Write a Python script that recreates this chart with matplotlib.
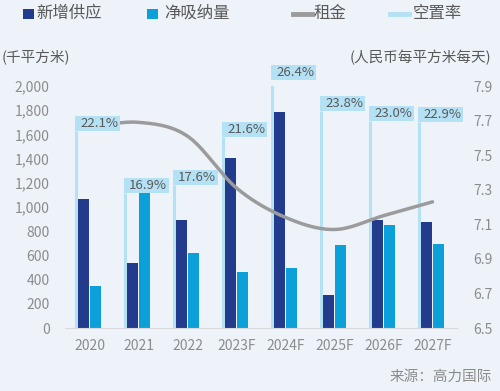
import numpy as np
import matplotlib.pyplot as plt
from matplotlib.patches import Rectangle
from matplotlib.transforms import IdentityTransform

plt.rcParams['font.family'] = ['Noto Sans CJK SC', 'DejaVu Sans']

years = ['2020', '2021', '2022', '2023F', '2024F', '2025F', '2026F', '2027F']
supply = [1070, 540, 890, 1405, 1785, 275, 895, 880]
absorption = [345, 1115, 620, 465, 500, 690, 848, 695]
rent = [7.66, 7.69, 7.61, 7.31, 7.14, 7.07, 7.15, 7.23]
vacancy = [22.1, 16.9, 17.6, 21.6, 26.4, 23.8, 23.0, 22.9]
vac_labels = ['22.1%', '16.9%', '17.6%', '21.6%', '26.4%', '23.8%', '23.0%', '22.9%']
legend_labels = ['新增供应', '净吸纳量', '租金', '空置率']

bg = '#EEF3FA'
c_dark = '#223B8C'
c_light = '#0BA0DA'
c_rent = '#9B9B9B'
c_vac = '#B5E1F4'
c_tick = '#8C8C8C'
c_text = '#595959'

H = 391  # figure height in px


def smooth(xs, ys, n=30):
    # catmull-rom style smoothing, like excel's smoothed line
    xs = np.asarray(xs, float)
    ys = np.asarray(ys, float)
    px = np.concatenate([[2*xs[0]-xs[1]], xs, [2*xs[-1]-xs[-2]]])
    py = np.concatenate([[2*ys[0]-ys[1]], ys, [2*ys[-1]-ys[-2]]])
    ox, oy = [], []
    t = np.linspace(0, 1, n)
    for i in range(1, len(px)-2):
        for p, o in ((px, ox), (py, oy)):
            p0, p1, p2, p3 = p[i-1], p[i], p[i+1], p[i+2]
            o.extend(0.5*((2*p1) + (-p0+p2)*t + (2*p0-5*p1+4*p2-p3)*t**2
                          + (-p0+3*p1-3*p2+p3)*t**3))
    return np.array(ox), np.array(oy)


fig = plt.figure(figsize=(5, 3.91), dpi=100, facecolor=bg)
ax = fig.add_axes([0.13, 0.161, 0.784, 0.619])
ax.set_facecolor(bg)
x = np.arange(len(years))
w = 0.22

# vacancy on a hidden axis
axv = ax.twinx()
axv.set_ylim(5.6, 25.9)
axv.axis('off')
xv = x - 0.27
axv.vlines(xv, 5.6, vacancy, color=c_vac, lw=2.2, zorder=1)

ax.bar(x - 0.125, supply, w, color=c_dark, zorder=2)
ax.bar(x + 0.125, absorption, w, color=c_light, zorder=2)
ax.set_xlim(-0.5, 7.5)
ax.set_ylim(0, 2000)
ax.set_yticks(range(0, 2001, 200))
ax.set_yticklabels([f'{v:,}' for v in range(0, 2001, 200)])
ax.set_xticks(x)
ax.set_xticklabels(years)
ax.tick_params(length=0, labelsize=10, colors=c_tick)
ax.tick_params(axis='y', pad=11)
ax.tick_params(axis='x', pad=8)
for s in ['top', 'right', 'left']:
    ax.spines[s].set_visible(False)
ax.spines['bottom'].set_color('#D9D9D9')
ax.set_zorder(axv.get_zorder() + 1)
ax.patch.set_visible(False)

axr = ax.twinx()
axr.set_ylim(6.5, 7.9)
axr.set_yticks(np.arange(6.5, 7.91, 0.2))
axr.set_yticklabels([f'{v:.1f}' for v in np.arange(6.5, 7.91, 0.2)])
axr.tick_params(length=0, labelsize=10, colors=c_tick, pad=12)
for s in axr.spines.values():
    s.set_visible(False)
sx, sy = smooth(x, rent)
axr.plot(sx, sy, color=c_rent, lw=2.5, solid_capstyle='round', zorder=3)

# vacancy label boxes, drawn on top in pixel units
for xi, v, lab in zip(xv, vacancy, vac_labels):
    px, py = axv.transData.transform((xi, v))
    fig.add_artist(Rectangle((px - 1.5, py), 45, 15, transform=IdentityTransform(),
                             fc=c_vac, ec='none', zorder=10))
    fig.text((px + 4) / 500, (py + 7.5) / H, lab, fontsize=9.5, color=c_text,
             ha='left', va='center', zorder=11)

fig.text(0.004, 1 - 57 / H, '(千平方米)', fontsize=10.5, color=c_text, va='center')
fig.text(0.982, 1 - 57 / H, '(人民币每平方米每天)', fontsize=10.5, color=c_text,
         va='center', ha='right')
fig.text(0.984, 1 - 377 / H, '来源：高力国际', fontsize=10.5, color=c_tick,
         ha='right', va='center')

# legend, laid out by hand
ly = 13.5
fig.add_artist(Rectangle((23 / 500, 1 - 18.5 / H), 11 / 500, 10 / H,
                         transform=fig.transFigure, fc=c_dark, ec='none'))
fig.add_artist(Rectangle((147 / 500, 1 - 18.5 / H), 11 / 500, 10 / H,
                         transform=fig.transFigure, fc=c_light, ec='none'))
fig.add_artist(plt.Line2D([293 / 500, 312 / 500], [1 - ly / H] * 2,
                          transform=fig.transFigure, color=c_rent, lw=3.5))
fig.add_artist(plt.Line2D([390 / 500, 409 / 500], [1 - ly / H] * 2,
                          transform=fig.transFigure, color=c_vac, lw=3.5))
for lx, lab in zip([36, 164, 314, 413], legend_labels):
    fig.text(lx / 500, 1 - ly / H, lab, fontsize=11.8, color=c_text,
             ha='left', va='center')

fig.savefig('out.png', dpi=100, facecolor=bg)
